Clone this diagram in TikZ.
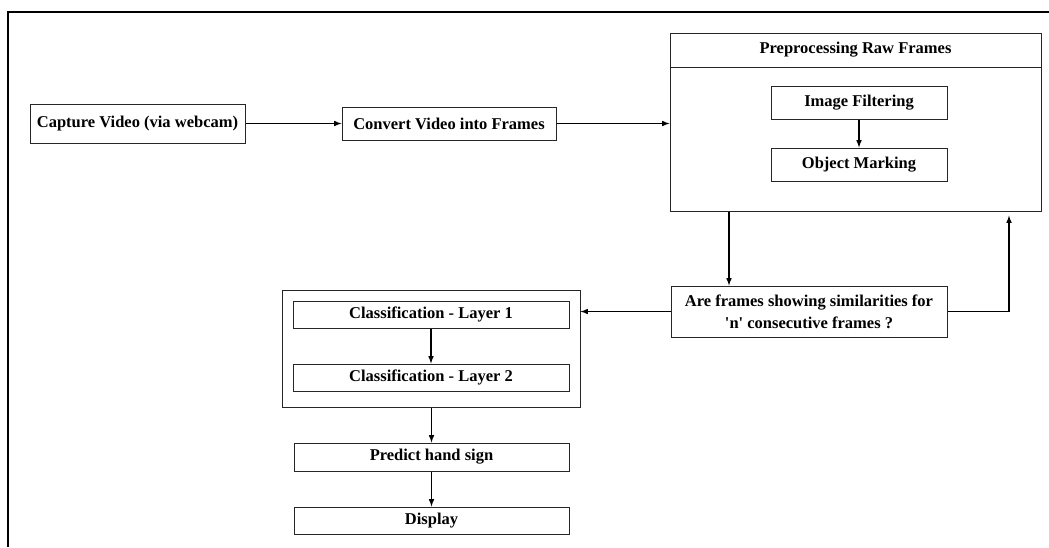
\documentclass[tikz,border=0pt]{standalone}
\usepackage{fontspec}
\setmainfont{Liberation Serif}
\usetikzlibrary{arrows}

\begin{document}
\begin{tikzpicture}[x=1pt,y=-1pt,
    box/.style={draw=black!85,line width=1pt,inner sep=0pt,align=center,
      font=\fontsize{16.5}{22}\selectfont\bfseries},
    arr/.style={-latex,line width=1.5pt}]
  \useasboundingbox (0,0) rectangle (1049,547);
  % frame
  \draw[line width=1.6pt] (8,547) -- (8,12) -- (1049,12);
  % top row
  \node[box,minimum width=215pt,minimum height=39pt](cap)at(137.5,123.5){Capture Video (via webcam)};
  \node[box,minimum width=214pt,minimum height=33pt](conv)at(449,123.5){Convert Video into Frames};
  % preprocessing block
  \node[box,minimum width=371pt,minimum height=178pt](pre)at(855.5,122){};
  \node[box,draw=none](title)at(855.5,50){Preprocessing Raw Frames};
  \coordinate (sep) at (0,67);
  \draw[line width=1pt,black!85] (pre.west |- sep) -- (pre.east |- sep);
  \node[box,minimum width=176pt,minimum height=33pt](filt)at(859,102.5){Image Filtering};
  \node[box,minimum width=176pt,minimum height=33pt](mark)at(859,164.5){Object Marking};
  % check
  \node[box,minimum width=276pt,minimum height=51pt](q)at(809,311.5){Are frames showing similarities for\\\textquotesingle n\textquotesingle{} consecutive frames ?};
  % classification block
  \node[box,minimum width=298pt,minimum height=117pt](cls)at(431,348.5){};
  \node[box,minimum width=276pt,minimum height=27pt](lay1)at(431,314.5){Classification - Layer 1};
  \node[box,minimum width=276pt,minimum height=27pt](lay2)at(431,377.5){Classification - Layer 2};
  \node[box,minimum width=275pt,minimum height=28pt](pred)at(431.5,457){Predict hand sign};
  \node[box,minimum width=275pt,minimum height=27pt](disp)at(431.5,520.5){Display};
  % connectors
  \draw[arr] (cap) -- (conv);
  \draw[arr] (conv.east) -- (conv.east -| pre.west);
  \draw[arr] (filt) -- (mark);
  \coordinate (dn) at (729,0);
  \draw[arr] (pre.south -| dn) -- (q.north -| dn);
  \coordinate (up) at (1009,0);
  \draw[arr,shorten >=4pt] (q.east) -| (pre.south -| up);
  \draw[arr] (q.west) -- (q.west -| cls.east);
  \draw[arr] (lay1) -- (lay2);
  \draw[arr] (cls.south -| pred.north) -- (pred);
  \draw[arr] (pred) -- (disp);
\end{tikzpicture}
\end{document}
